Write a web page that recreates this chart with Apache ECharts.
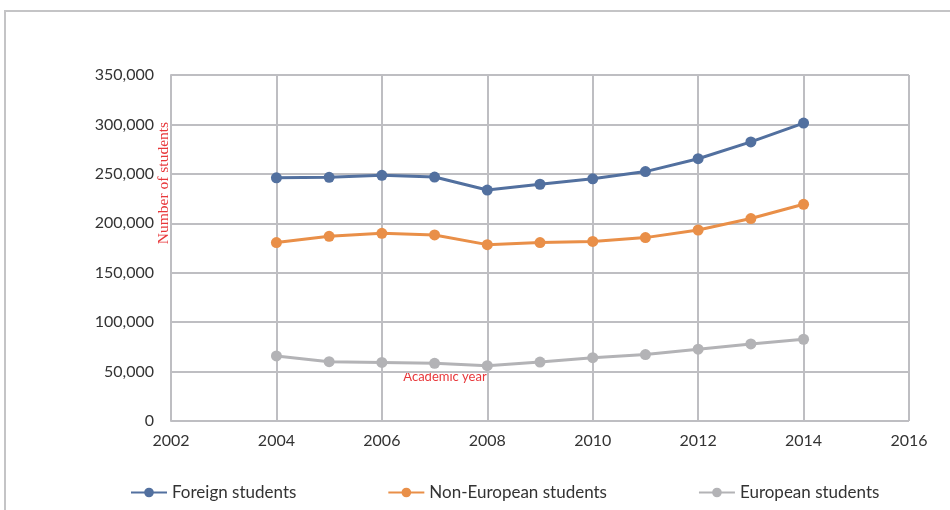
<!DOCTYPE html>
<html><head><meta charset="utf-8">
<script src="https://cdn.jsdelivr.net/npm/echarts@6/dist/echarts.min.js"></script>
<style>html,body{margin:0;padding:0;background:#fff}#c{width:950px;height:510px}</style>
</head><body><div id="c"></div>
<script>
const years = [2004,2005,2006,2007,2008,2009,2010,2011,2012,2013,2014];
const foreign = [246000,246500,248500,246800,233600,239500,245000,252300,265300,282300,301400];
const nonEuropean = [180500,186800,189800,188200,178400,180500,181600,185500,193200,204800,219200];
const european = [65800,60000,59300,58300,56000,59600,64000,67200,72600,78000,82700];
const seriesNames = ['Foreign students','Non-European students','European students'];
const colors = ['#52709f','#e98f48','#b3b3b6'];
const pairs = a => years.map((y,i)=>[y,a[i]]);
const font = 'Lato, "Open Sans", sans-serif';
const chart = echarts.init(document.getElementById('c'));
const dataSets = [foreign, nonEuropean, european];
chart.setOption({
  animation:false,
  color:colors,
  graphic:[
    {type:'rect',shape:{x:5,y:11,width:960,height:520},style:{fill:'none',stroke:'#c4c4c6',lineWidth:2}},
    {type:'text',x:164,y:183,rotation:Math.PI/2,style:{text:'Number of students',font:'15.5px "Liberation Serif", serif',fill:'#e8383b',align:'center',verticalAlign:'middle'}},
    {type:'text',x:445,y:377,style:{text:'Academic year',font:'13px '+font,fill:'#e8383b',align:'center',verticalAlign:'middle'}}
  ],
  grid:{left:171,right:41,top:75,bottom:89},
  legend:{left:125,top:479,itemGap:91,itemWidth:36,itemHeight:12,
    textStyle:{fontFamily:font,fontSize:17,color:'#333'},
    data:seriesNames},
  xAxis:{type:'value',min:2002,max:2016,interval:2,
    axisLine:{show:false},axisTick:{show:false},
    splitLine:{show:true,lineStyle:{color:'#bebec2',width:2}},
    axisLabel:{fontFamily:font,fontSize:16,color:'#333',margin:12,formatter:v=>String(v)}},
  yAxis:{type:'value',min:0,max:350000,interval:50000,
    axisLine:{show:true,lineStyle:{color:'#bebec2',width:2}},axisTick:{show:false},
    splitLine:{show:true,lineStyle:{color:'#bebec2',width:2}},
    axisLabel:{fontFamily:font,fontSize:16,color:'#333',margin:17,
      formatter:v=>v.toLocaleString('en-US')}},
  series:dataSets.map((d,i)=>({name:seriesNames[i],type:'line',data:pairs(d),
    symbol:'circle',symbolSize:11,lineStyle:{width:3},itemStyle:{color:colors[i]}}))
});
</script></body></html>
